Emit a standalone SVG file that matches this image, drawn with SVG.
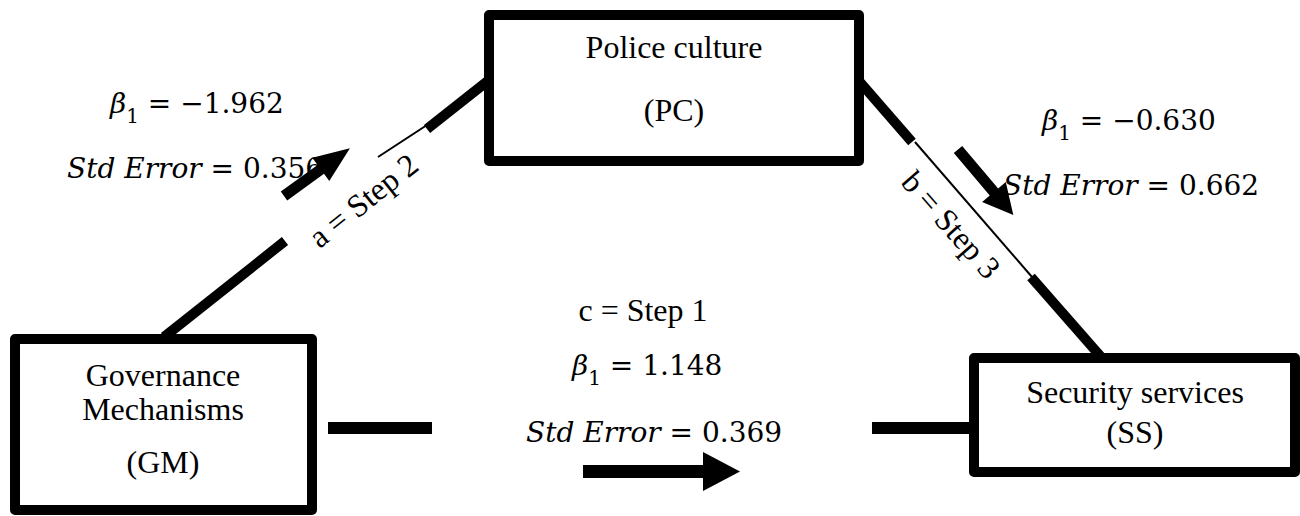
<svg xmlns="http://www.w3.org/2000/svg" width="1300" height="516" viewBox="0 0 1300 516">
  <style>
    .box { fill: #ffffff; stroke: #000000; stroke-width: 10; stroke-linejoin: round; }
    .label { font-family: "Liberation Serif", "Times New Roman", serif; font-size: 32px; fill: #000000; text-anchor: middle; }
    .math { font-family: "DejaVu Serif", "Liberation Serif", serif; font-size: 28px; fill: #000000; }
    .math .v { font-style: italic; }
    .math .sub { font-size: 20px; }
    .link { stroke: #000000; stroke-width: 10; fill: none; stroke-linecap: butt; }
    .link-thick { stroke: #000000; stroke-width: 12; fill: none; stroke-linecap: butt; }
    .link-thin { stroke: #000000; stroke-width: 2; fill: none; }
    .arrow { fill: #000000; }
  </style>

  <!-- path lines between the variables -->
  <g id="connectors">
    <!-- a: GM to PC -->
    <line class="link" x1="164" y1="337" x2="285" y2="241"/>
    <line class="link-thin" x1="378" y1="157" x2="427" y2="125"/>
    <line class="link" x1="427" y1="129" x2="489" y2="80"/>
    <!-- b: PC to SS -->
    <line class="link" x1="859" y1="81" x2="912" y2="142"/>
    <line class="link-thin" x1="915" y1="142" x2="1032" y2="277"/>
    <line class="link" x1="1031" y1="277" x2="1102" y2="358"/>
    <!-- c: GM to SS -->
    <line class="link-thick" x1="328" y1="428" x2="432" y2="428"/>
    <line class="link-thick" x1="872" y1="428" x2="974" y2="428"/>
  </g>

  <g id="node-pc">
    <rect class="box" x="489" y="15" width="370" height="146"/>
    <text class="label" x="674" y="58">Police culture</text>
    <text class="label" x="674" y="121">(PC)</text>
  </g>

  <g id="node-gm">
    <rect class="box" x="15" y="339" width="297" height="171"/>
    <text class="label" x="163" y="386">Governance</text>
    <text class="label" x="163" y="420">Mechanisms</text>
    <text class="label" x="163" y="473">(GM)</text>
  </g>

  <g id="node-ss">
    <rect class="box" x="974" y="358" width="321" height="114"/>
    <text class="label" x="1135" y="403">Security services</text>
    <text class="label" x="1135" y="443">(SS)</text>
  </g>

  <!-- path names -->
  <g id="path-labels">
    <text class="label" transform="translate(370,209) rotate(-38.5)">a = Step 2</text>
    <text class="label" transform="translate(943,232) rotate(48.6)">b = Step 3</text>
    <text class="label" x="643" y="321">c = Step 1</text>
  </g>

  <!-- coefficients -->
  <g id="coefficients">
    <text class="math" x="110" y="113"><tspan class="v">β</tspan><tspan class="sub" dy="10">1</tspan><tspan dy="-10"> = −1.962</tspan></text>
    <text class="math" x="67" y="178"><tspan class="v">Std Error</tspan> = 0.356</text>

    <text class="math" x="1042" y="130"><tspan class="v">β</tspan><tspan class="sub" dy="10">1</tspan><tspan dy="-10"> = −0.630</tspan></text>
    <text class="math" x="1003" y="195"><tspan class="v">Std Error</tspan> = 0.662</text>

    <text class="math" x="572" y="375"><tspan class="v">β</tspan><tspan class="sub" dy="10">1</tspan><tspan dy="-10"> = 1.148</tspan></text>
    <text class="math" x="526" y="442"><tspan class="v">Std Error</tspan> = 0.369</text>
  </g>

  <!-- block arrows showing direction of each path -->
  <g id="direction-arrows">
    <polygon class="arrow" transform="translate(284,196) rotate(-35.9)" points="0,-5.5 45.4,-5.5 45.4,-14.5 81.4,0 45.4,14.5 45.4,5.5 0,5.5"/>
    <polygon class="arrow" transform="translate(958,149.5) rotate(49.8)" points="0,-5.5 55.7,-5.5 55.7,-15.5 85.7,0 55.7,15.5 55.7,5.5 0,5.5"/>
    <polygon class="arrow" transform="translate(583,471.5)" points="0,-6.5 120,-6.5 120,-19.5 157,0 120,19.5 120,6.5 0,6.5"/>
  </g>
</svg>
